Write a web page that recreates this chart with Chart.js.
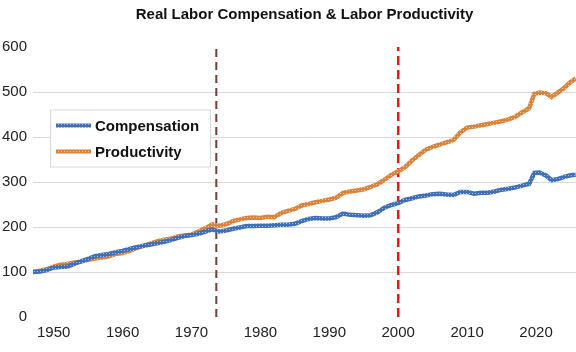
<!DOCTYPE html>
<html>
<head>
<meta charset="utf-8">
<script src="https://cdn.jsdelivr.net/npm/chart.js@4.4.1/dist/chart.umd.min.js"></script>
<style>
  html,body{margin:0;padding:0;background:#fff}
  #wrap{position:relative;width:576px;height:352px}
</style>
</head>
<body>
<div id="wrap"><canvas id="c"></canvas></div>
<script>
/* Real labor compensation vs labor productivity, index (start = 100) */
const TITLE = 'Real Labor Compensation & Labor Productivity';

const years = [
  1947,1948,1949,1950,1951,1952,1953,1954,1955,1956,
  1957,1958,1959,1960,1961,1962,1963,1964,1965,1966,
  1967,1968,1969,1970,1971,1972,1973,1974,1975,1976,
  1977,1978,1979,1980,1981,1982,1983,1984,1985,1986,
  1987,1988,1989,1990,1991,1992,1993,1994,1995,1996,
  1997,1998,1999,2000,2001,2002,2003,2004,2005,2006,
  2007,2008,2009,2010,2011,2012,2013,2014,2015,2016,
  2017,2018,2019,2019.75,2020.5,2021.5,2022.25,2023,2024,2025,2025.75
];

const compensation = [
  100,101,104,110,111,112,118,124,129,135,
  138,140,144,147,151,155,158,161,164,167,
  171,176,180,182,185,190,195,190,192,196,
  199,202,202,203,203,204,205,205,207,213,
  218,220,219,219,222,230,227,226,225,226,
  233,243,249,253,260,264,268,270,273,274,
  272,271,278,278,274,276,276,279,283,285,
  288,292,296,320,321,314,304,306,311,315,316
];

const productivity = [
  100,103,106,112,116,118,121,123,127,130,
  132,135,140,142,147,153,158,163,168,172,
  174,179,181,183,190,197,206,203,206,213,
  217,220,221,220,223,222,231,236,240,248,
  251,255,258,261,265,276,279,281,284,289,
  295,305,316,324,333,348,360,372,378,383,
  388,393,410,421,423,426,429,432,435,439,
  445,455,464,496,499,497,489,497,508,522,530
];

const xTicks = [1950,1960,1970,1980,1990,2000,2010,2020];
const markerYears = [1973.6, 2000];            // dashed reference lines
const markerColors = ['#7b3b3b', '#e3191c'];

const FONT = "'Liberation Sans', Arial, sans-serif";
const SERIES = [
  {label:'Compensation', data:compensation, color:'#3f6fb5'},
  {label:'Productivity', data:productivity, color:'#d9843d'},
];

// Excel-ish textured line: solid colour with faint light dots
function hatch(color){
  const c=document.createElement('canvas'); c.width=3; c.height=3;
  const g=c.getContext('2d');
  g.fillStyle=color; g.fillRect(0,0,3,3);
  g.fillStyle='rgba(255,255,255,0.55)'; g.fillRect(1,1,1,1);
  return g.createPattern(c,'repeat');
}

const datasets = SERIES.map(s=>({
  label:s.label,
  data:years.map((x,i)=>({x, y:s.data[i]})),
  borderColor:hatch(s.color), borderWidth:4.5,
  pointRadius:0, tension:0, order:1
}));
markerYears.forEach((yr,i)=>{
  datasets.push({
    label:'marker'+i, data:[{x:yr,y:0},{x:yr,y:600}],
    borderColor:markerColors[i], borderWidth:i?2.5:2, borderDash:i?[9,5]:[8,5],
    pointRadius:0, order:2
  });
});

/* title + boxed legend drawn on the canvas */
const decor = {
  id:'decor',
  afterDraw(chart){
    const {ctx, chartArea:a} = chart;
    ctx.save();
    ctx.fillStyle='#111'; ctx.font=`bold 15px ${FONT}`;
    ctx.textAlign='center'; ctx.textBaseline='middle';
    ctx.fillText(TITLE, (a.left+a.right)/2, 15);

    const bx=a.left+17, by=a.top+62.5, bw=160, bh=57;
    ctx.fillStyle='#fff'; ctx.fillRect(bx,by,bw,bh);
    ctx.strokeStyle='#d9d9d9'; ctx.lineWidth=1;
    ctx.strokeRect(bx+0.5,by+0.5,bw,bh);
    SERIES.forEach((s,i)=>{
      const y=by+16+i*26;
      ctx.strokeStyle=hatch(s.color); ctx.lineWidth=4;
      ctx.beginPath(); ctx.moveTo(bx+6,y); ctx.lineTo(bx+41,y); ctx.stroke();
      ctx.fillStyle='#111'; ctx.font=`bold 15px ${FONT}`;
      ctx.textAlign='left'; ctx.textBaseline='middle';
      ctx.fillText(s.label, bx+45, y+1);
    });
    ctx.restore();
  }
};

new Chart(document.getElementById('c'),{
  type:'line',
  data:{datasets},
  plugins:[decor],
  options:{
    responsive:true, maintainAspectRatio:false, animation:false,
    layout:{padding:{top:47,right:0,left:0,bottom:0}},
    plugins:{legend:{display:false}, tooltip:{enabled:false}},
    scales:{
      x:{
        type:'linear', min:1947, max:2025.8,
        afterBuildTicks:sc=>{ sc.ticks = xTicks.map(v=>({value:v})); },
        afterFit:sc=>{ sc.height = 35; },
        grid:{display:false, drawTicks:false}, border:{display:false},
        ticks:{color:'#222', font:{family:FONT,size:15}, padding:7, maxRotation:0, autoSkip:false,
               callback:v=>String(v)}
      },
      y:{
        min:0, max:600,
        afterFit:sc=>{ sc.width = 33; },
        grid:{drawTicks:false, color:c=>(c.tick.value===0||c.tick.value===600)?'rgba(0,0,0,0)':'#d9d9d9'},
        border:{display:false},
        ticks:{stepSize:100, color:'#222', font:{family:FONT,size:15}, padding:6}
      }
    }
  }
});
</script>
</body>
</html>
